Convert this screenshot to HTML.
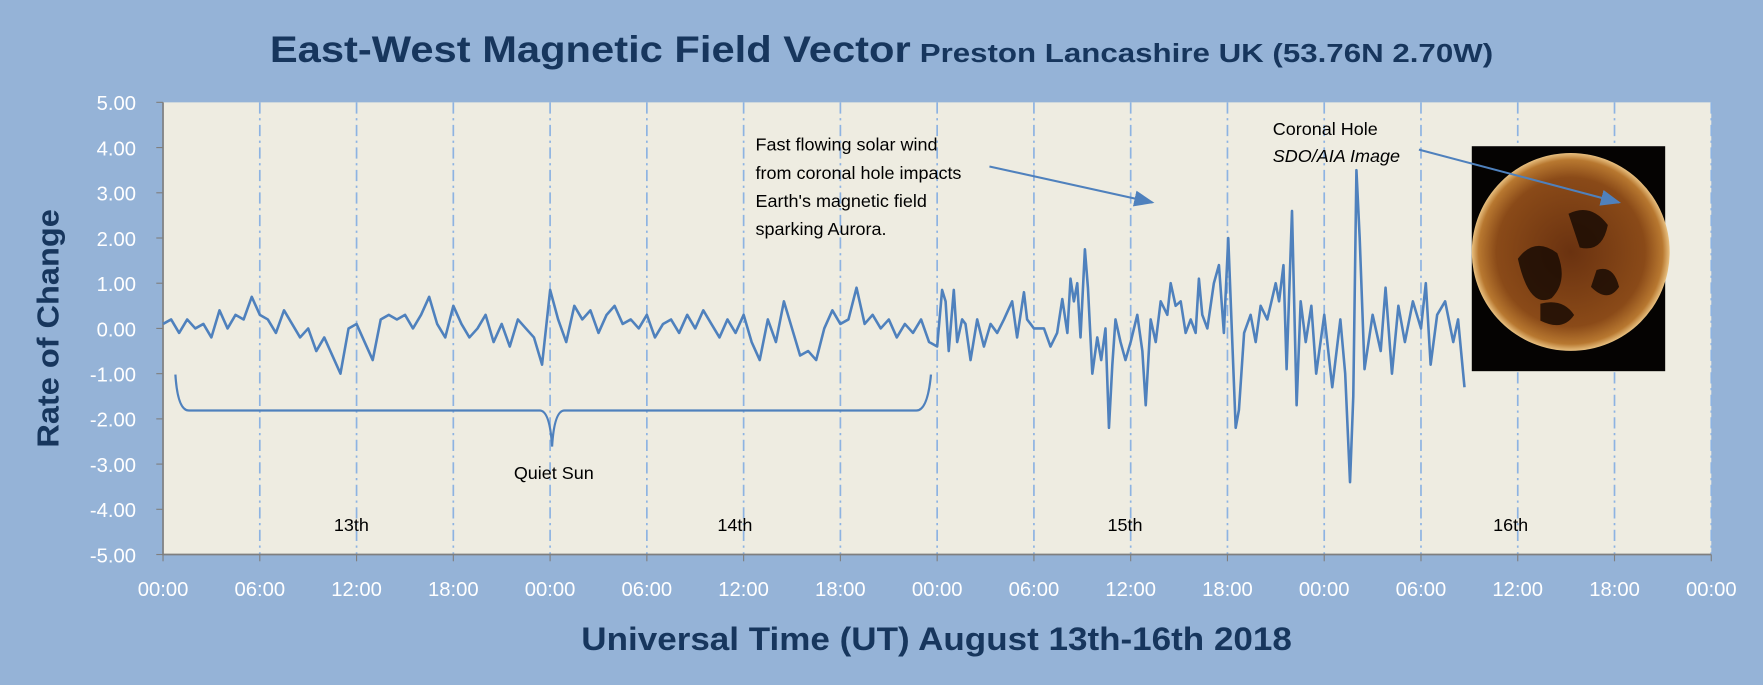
<!DOCTYPE html>
<html><head><meta charset="utf-8"><style>
html,body{margin:0;padding:0;background:#95b3d7;overflow:hidden;}
svg{display:block;font-family:"Liberation Sans",sans-serif;}
</style></head><body>
<svg id="chart" width="1763" height="685" viewBox="0 0 1568 609" preserveAspectRatio="none">
<defs>
<radialGradient id="sun" cx="50%" cy="50%" r="50%">
<stop offset="0%" stop-color="#6a3210"/><stop offset="75%" stop-color="#8a4a18"/><stop offset="93%" stop-color="#b87830"/><stop offset="100%" stop-color="#e8c080"/>
</radialGradient>
<marker id="ah" markerWidth="10" markerHeight="8" refX="9" refY="4" orient="auto"><path d="M0,0 L10,4 L0,8 Z" fill="#4f81bd"/></marker>
</defs>
<rect x="0" y="0" width="1568" height="609" fill="#95b3d7"/>
<text x="240" y="55" fill="#17365d" font-weight="bold" font-size="33" textLength="570" lengthAdjust="spacingAndGlyphs">East-West Magnetic Field Vector</text>
<text x="818" y="55" fill="#17365d" font-weight="bold" font-size="23" textLength="510" lengthAdjust="spacingAndGlyphs">Preston Lancashire UK (53.76N 2.70W)</text>
<rect x="145" y="91" width="1377" height="402" fill="#eeece1"/>
<g id="grid"></g>
<g id="axes"></g>
<path id="series" fill="none" stroke="#4f81bd" stroke-width="2.3" stroke-linejoin="round"/>
<g>
<path d="M156,333 Q158,365 168,365 L480,365 Q489,365 491,397 Q493,365 502,365 L815,365 Q825,365 828,333" fill="none" stroke="#4f81bd" stroke-width="2"/>
</g>
<text x="457" y="426" font-size="16" fill="#000">Quiet Sun</text>
<text x="297" y="472" font-size="16" fill="#000">13th</text>
<text x="638" y="472" font-size="16" fill="#000">14th</text>
<text x="985" y="472" font-size="16" fill="#000">15th</text>
<text x="1328" y="472" font-size="16" fill="#000">16th</text>
<g font-size="16" fill="#000">
<text x="672" y="134">Fast flowing solar wind</text>
<text x="672" y="159">from coronal hole impacts</text>
<text x="672" y="184">Earth's magnetic field</text>
<text x="672" y="209">sparking Aurora.</text>
</g>
<line x1="880" y1="148" x2="1025" y2="180" stroke="#4f81bd" stroke-width="1.8" marker-end="url(#ah)"/>
<g font-size="16" fill="#000">
<text x="1132" y="120">Coronal Hole</text>
<text x="1132" y="144" font-style="italic">SDO/AIA Image</text>
</g>
<g>
<rect x="1309" y="130" width="172" height="200" fill="#050302"/>
<circle cx="1397" cy="224" r="88" fill="url(#sun)"/>
<path d="M1350,230 q15,-20 35,-5 q10,25 -5,40 q-20,10 -30,-35 Z M1395,190 q20,-10 35,10 q-5,25 -25,20 Z M1420,240 q15,-5 20,15 q-10,15 -25,0 Z M1370,270 q20,-5 30,10 q-10,15 -30,5 Z" fill="#1a0c04" opacity="0.85"/>
</g>
<line x1="1262" y1="133" x2="1440" y2="180" stroke="#4f81bd" stroke-width="1.8" marker-end="url(#ah)"/>
<text x="833" y="578" text-anchor="middle" fill="#17365d" font-weight="bold" font-size="29" textLength="632" lengthAdjust="spacingAndGlyphs">Universal Time (UT) August 13th-16th 2018</text>
<text transform="translate(52,292) rotate(-90)" text-anchor="middle" fill="#17365d" font-weight="bold" font-size="27" textLength="212" lengthAdjust="spacingAndGlyphs">Rate of Change</text>
</svg>
<script>
const yTicks = [5,4,3,2,1,0,-1,-2,-3,-4,-5];
const xTickLabels = ["00:00","06:00","12:00","18:00","00:00","06:00","12:00","18:00","00:00","06:00","12:00","18:00","00:00","06:00","12:00","18:00","00:00"];
const hoursQuiet = [];
for (let i = 0; i < 96; i++) hoursQuiet.push(i * 0.5);
const valuesQuiet = [0.1,0.2,-0.1,0.2,0.0,0.1,-0.2,0.4,0.0,0.3,0.2,0.7,0.3,0.2,-0.1,0.4,0.1,-0.2,0.0,-0.5,-0.2,-0.6,-1.0,0.0,0.1,-0.3,-0.7,0.2,0.3,0.2,0.3,0.0,0.3,0.7,0.1,-0.2,0.5,0.1,-0.2,0.0,0.3,-0.3,0.1,-0.4,0.2,0.0,-0.2,-0.8,0.85,0.2,-0.3,0.5,0.2,0.4,-0.1,0.3,0.5,0.1,0.2,0.0,0.3,-0.2,0.1,0.2,-0.1,0.3,0.0,0.4,0.1,-0.2,0.2,-0.1,0.3,-0.3,-0.7,0.2,-0.3,0.6,0.0,-0.6,-0.5,-0.7,0.0,0.4,0.1,0.2,0.9,0.1,0.3,0.0,0.2,-0.2,0.1,-0.1,0.2,-0.3];
const hoursActive = [48.0,48.31,48.52,48.72,49.03,49.24,49.55,49.76,50.07,50.48,50.9,51.31,51.72,52.14,52.65,52.96,53.38,53.58,54.0,54.62,55.03,55.44,55.76,56.07,56.27,56.48,56.69,56.89,57.16,57.35,57.62,57.93,58.17,58.44,58.65,58.86,59.06,59.37,59.68,60.0,60.41,60.72,60.93,61.24,61.55,61.86,62.27,62.48,62.79,63.1,63.41,63.72,64.03,64.23,64.44,64.75,65.16,65.47,65.78,66.05,66.3,66.51,66.71,67.03,67.44,67.75,68.06,68.47,68.99,69.2,69.47,69.67,70.0,70.29,70.54,70.85,71.2,71.5,72.0,72.5,73.0,73.3,73.6,73.8,74.0,74.2,74.5,75.0,75.5,75.8,76.2,76.6,77.0,77.5,78.0,78.3,78.6,79.0,79.5,80.0,80.3,80.7];
const valuesActive = [-0.4,0.85,0.6,-0.5,0.85,-0.3,0.2,0.1,-0.7,0.2,-0.4,0.1,-0.1,0.2,0.6,-0.2,0.8,0.2,0.0,0.0,-0.4,-0.1,0.65,-0.1,1.1,0.6,1.0,-0.2,1.75,0.9,-1.0,-0.2,-0.7,0.0,-2.2,-0.8,0.2,-0.3,-0.7,-0.3,0.3,-0.5,-1.7,0.2,-0.3,0.6,0.3,1.0,0.5,0.6,-0.1,0.2,-0.1,1.1,0.3,0.0,1.0,1.4,-0.1,2.0,-0.3,-2.2,-1.8,-0.1,0.3,-0.3,0.5,0.2,1.0,0.6,1.4,-0.9,2.6,-1.7,0.6,-0.3,0.5,-1.0,0.3,-1.3,0.2,-1.0,-3.4,-1.5,3.5,2.0,-0.9,0.3,-0.5,0.9,-1.0,0.5,-0.3,0.6,0.0,1.0,-0.8,0.3,0.6,-0.3,0.2,-1.3];

const X0 = 145, X1 = 1522, Y0 = 91, Y1 = 493;
const xScale = h => X0 + h / 96 * (X1 - X0);
const yScale = v => Y1 - (v + 5) / 10 * (Y1 - Y0);
const NS = "http://www.w3.org/2000/svg";
const grid = document.getElementById('grid');
const axes = document.getElementById('axes');

xTickLabels.forEach((lab, i) => {
  const x = xScale(i * 6);
  if (i > 0) {
    const gl = document.createElementNS(NS, 'line');
    
    
    gl.setAttribute('x1', x); gl.setAttribute('x2', x);
    gl.setAttribute('y1', Y0); gl.setAttribute('y2', Y1);
    gl.setAttribute('stroke', '#8db3e2'); gl.setAttribute('stroke-width', '1.5');
    gl.setAttribute('stroke-dasharray', '10,4,2,4');
    grid.appendChild(gl);
  }
  const tk = document.createElementNS(NS, 'line');
  
  
  tk.setAttribute('x1', x); tk.setAttribute('x2', x);
  tk.setAttribute('y1', Y1); tk.setAttribute('y2', Y1 + 6);
  tk.setAttribute('stroke', '#7f7f7f');
  axes.appendChild(tk);
  const t = document.createElementNS(NS, 'text');
  
  
  t.setAttribute('x', x); t.setAttribute('y', 530);
  t.setAttribute('text-anchor', 'middle');
  t.setAttribute('fill', '#ffffff'); t.setAttribute('font-size', '18');
  t.textContent = lab;
  axes.appendChild(t);
});
yTicks.forEach(v => {
  const y = yScale(v);
  const tk = document.createElementNS(NS, 'line');
  
  
  tk.setAttribute('x1', X0 - 6); tk.setAttribute('x2', X0);
  tk.setAttribute('y1', y); tk.setAttribute('y2', y);
  tk.setAttribute('stroke', '#7f7f7f');
  axes.appendChild(tk);
  const t = document.createElementNS(NS, 'text');
  
  
  t.setAttribute('x', 121); t.setAttribute('y', y + 7);
  t.setAttribute('text-anchor', 'end');
  t.setAttribute('fill', '#ffffff'); t.setAttribute('font-size', '18');
  t.textContent = v.toFixed(2);
  axes.appendChild(t);
});
const ax = document.createElementNS(NS, 'path');


ax.setAttribute('d', `M${X0},${Y0} L${X0},${Y1} L${X1},${Y1}`);
ax.setAttribute('stroke', '#7f7f7f'); ax.setAttribute('fill', 'none'); ax.setAttribute('stroke-width', '1.5');
axes.appendChild(ax);

const hours = hoursQuiet.concat(hoursActive);
const values = valuesQuiet.concat(valuesActive);
let d = '';
hours.forEach((h, i) => { d += (i ? 'L' : 'M') + xScale(h).toFixed(1) + ',' + yScale(values[i]).toFixed(1) + ' '; });
document.getElementById('series').setAttribute('d', d);
</script>
</body></html>
